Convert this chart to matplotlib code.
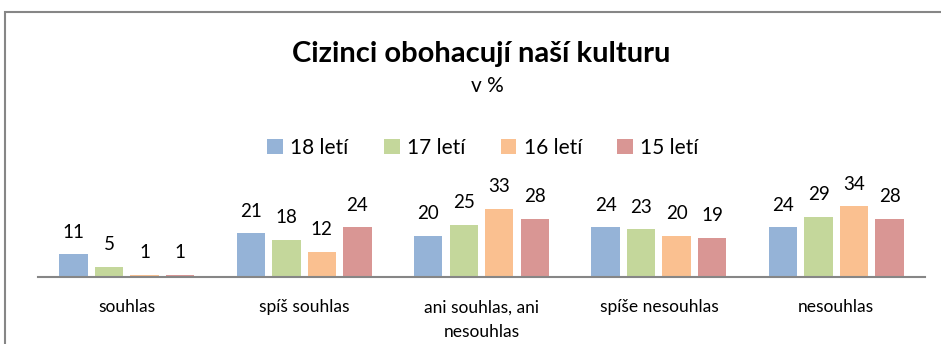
import numpy as np
import matplotlib
matplotlib.use('Agg')
import matplotlib.pyplot as plt
from matplotlib.patches import Rectangle, Patch

plt.rcParams['font.family'] = ['Lato', 'DejaVu Sans']

categories = ['souhlas', 'spíš souhlas', 'ani souhlas, ani\nnesouhlas', 'spíše nesouhlas', 'nesouhlas']
series_names = ['18 letí', '17 letí', '16 letí', '15 letí']
vals_18 = [11, 21, 20, 24, 24]
vals_17 = [5, 18, 25, 23, 29]
vals_16 = [1, 12, 33, 20, 34]
vals_15 = [1, 24, 28, 19, 28]
colors = ['#95B3D7', '#C4D79B', '#FAC090', '#D99694']

W, H = 941, 344
fig = plt.figure(figsize=(W / 100, H / 100), dpi=100)

# outer chart frame (runs off the right and bottom edge)
fig.patches.append(Rectangle((5 / W, -0.1), 1.2, 1 - 12 / H + 0.1, transform=fig.transFigure,
                             fill=False, edgecolor='#868686', linewidth=1.5))

ax = fig.add_axes([38 / W, 67 / H, 887 / W, 83 / H])
x = np.arange(len(categories))
width = 0.16
offsets = [-0.3, -0.1, 0.1, 0.3]
for vals, off, col, name in zip([vals_18, vals_17, vals_16, vals_15], offsets, colors, series_names):
    bars = ax.bar(x + off, vals, width, color=col, label=name)
    for b, v in zip(bars, vals):
        ax.annotate(str(v), (b.get_x() + b.get_width() / 2, v), xytext=(0, 12),
                    textcoords='offset points', ha='center', va='baseline', fontsize=13.5)

ax.set_xlim(-0.5, len(categories) - 0.5)
ax.set_ylim(0, 40)
ax.set_yticks([])
ax.set_xticks(x)
ax.set_xticklabels(categories, fontsize=12.5, linespacing=1.65)
ax.tick_params(axis='x', length=0, pad=16)
for s in ['top', 'right', 'left']:
    ax.spines[s].set_visible(False)
ax.spines['bottom'].set_color('#868686')
ax.spines['bottom'].set_linewidth(1.5)
ax.patch.set_alpha(0)

fig.text(481 / W, 1 - 54 / H, 'Cizinci obohacují naší kulturu', ha='center', va='center',
         fontsize=21, fontweight='bold')
fig.text(487 / W, 1 - 86 / H, 'v %', ha='center', va='center', fontsize=15)

handles = [Patch(facecolor=c) for c in colors]
fig.legend(handles, series_names, loc='center', bbox_to_anchor=(483 / W, 1 - 148 / H), ncol=4,
           frameon=False, fontsize=15, handlelength=0.75, handleheight=0.75,
           handletextpad=0.35, columnspacing=1.7)

fig.savefig('out.png', dpi=100)
